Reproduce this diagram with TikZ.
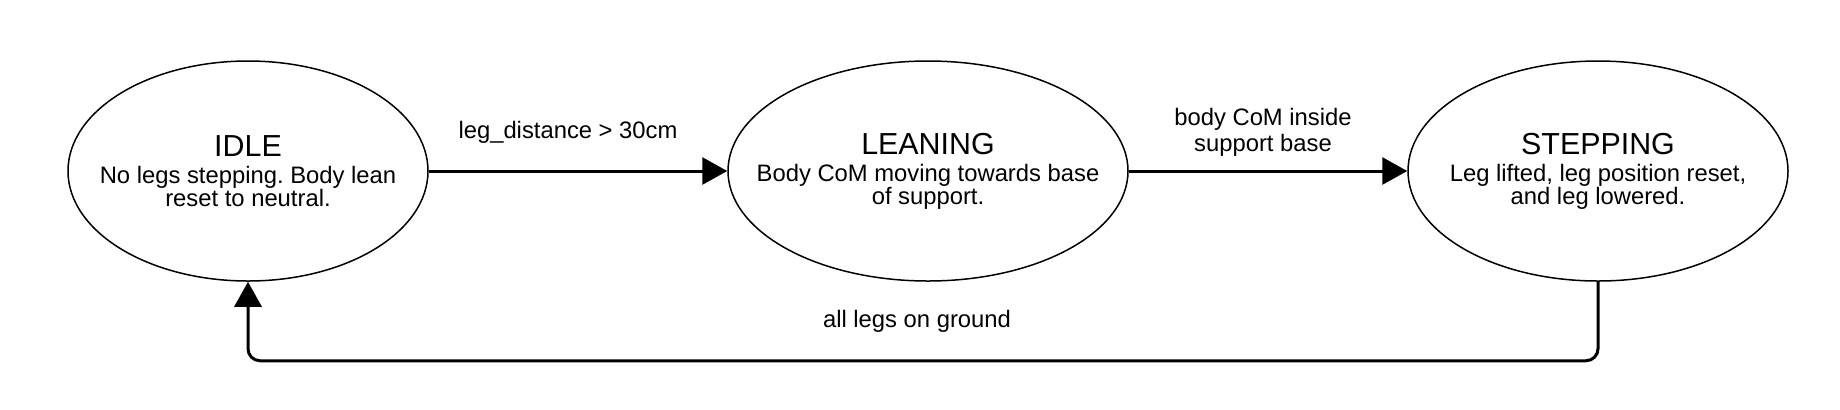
\documentclass[tikz,border=0pt]{standalone}
\usepackage{fontspec}
\setmainfont{Liberation Sans}
\usetikzlibrary{shapes.geometric,arrows.meta}
\frenchspacing

\tikzset{
    state/.style={draw, ellipse, line width=0.75pt, inner sep=0pt, minimum height=110pt},
    statetext/.style={align=center, inner sep=0pt, font=\fontsize{11.9}{11.5}\selectfont},
    flow/.style={line width=1.5pt, -{Triangle[length=12.5pt,width=13.5pt]}},
    cond/.style={align=center, font=\fontsize{11.9}{13}\selectfont},
}
\newcommand{\statename}[1]{{\fontsize{15.2}{15}\selectfont #1}\\[2pt]}

\begin{document}
\begin{tikzpicture}[x=0.5pt,y=-0.5pt]
    \useasboundingbox (0,0) rectangle (1840,409);
    % states
    \node[state, minimum width=180pt] (idle) at (248,171) {};
    \node[state, minimum width=200pt] (leaning) at (928,171) {};
    \node[state, minimum width=190pt] (stepping) at (1598,171) {};
    \node[statetext] (idletext) at (idle) {\statename{IDLE}No legs stepping. Body lean\\reset to neutral.};
    \node[statetext] (leaningtext) at (leaning) {\statename{LEANING}Body CoM moving towards base\\of support.};
    \node[statetext] (steppingtext) at (stepping) {\statename{STEPPING}Leg lifted, leg position reset,\\and leg lowered.};
    % transitions
    \draw[flow] (idle) -- (leaning);
    \draw[flow] (leaning) -- (stepping);
    \draw[flow, rounded corners=6pt] (stepping.south) -- ++(0,79) -| (idle.south);
    % conditions
    \node[cond, anchor=base] (c1) at (568,138) {leg\_distance > 30cm};
    \node[cond] (c2) at (1263,132) {body CoM inside\\support base};
    \node[cond, anchor=base] (c3) at (917,327) {all legs on ground};
\end{tikzpicture}
\end{document}
